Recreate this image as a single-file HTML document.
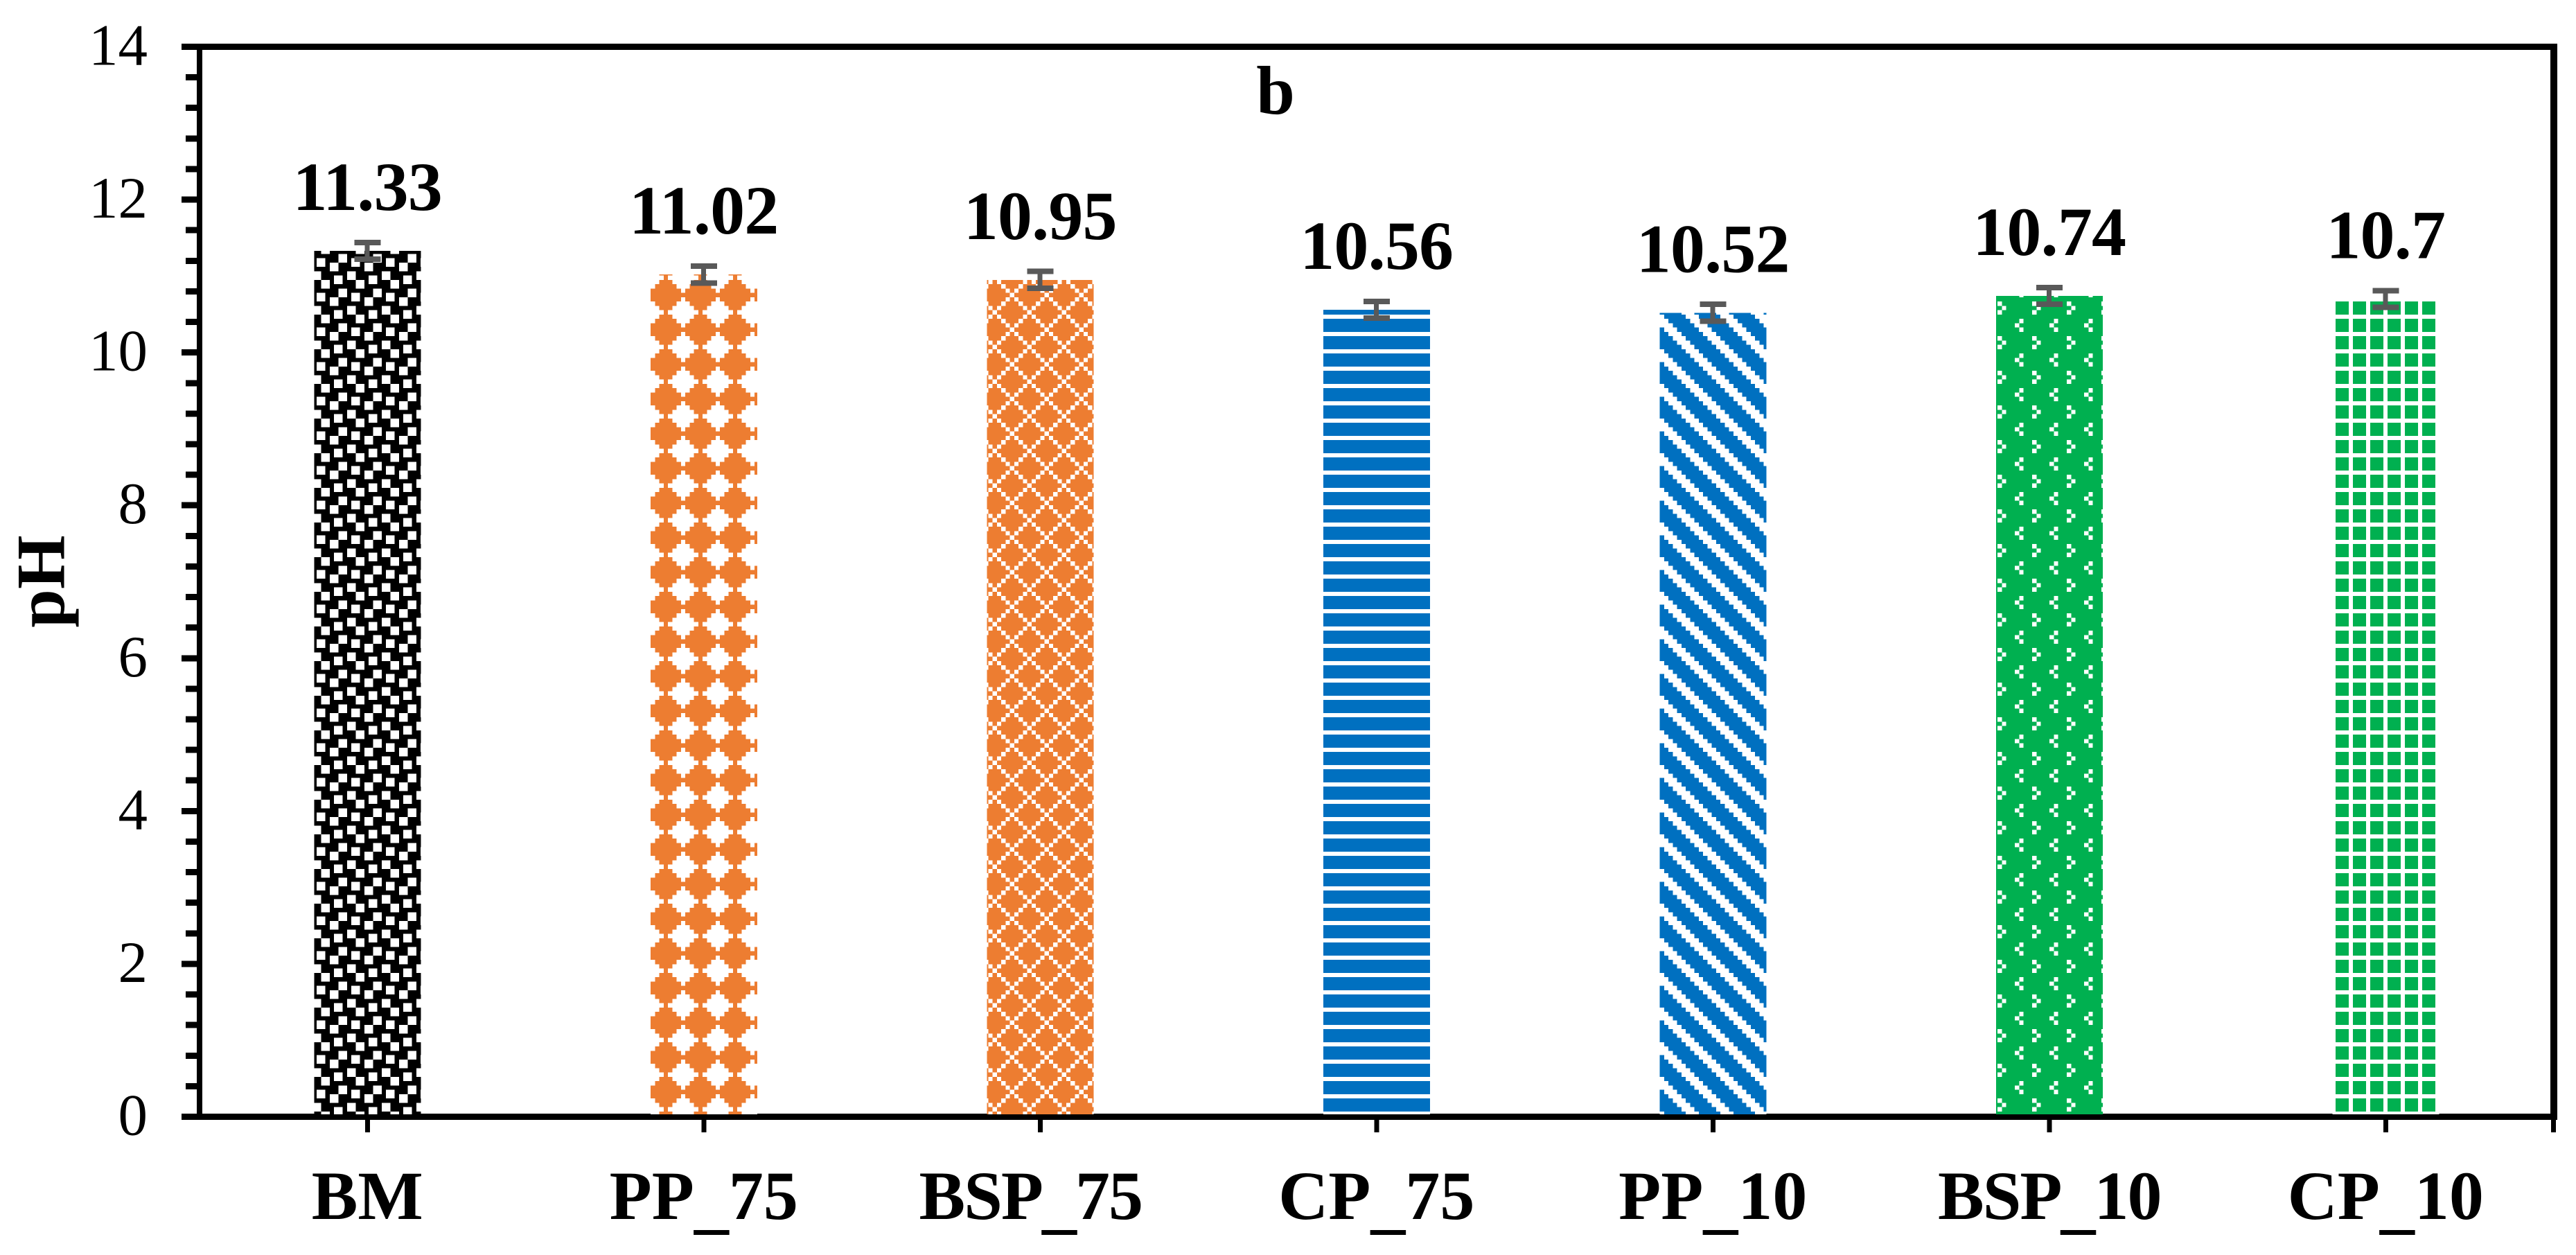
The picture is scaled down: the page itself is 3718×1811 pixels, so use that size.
<!DOCTYPE html>
<html lang="en">
<head>
<meta charset="utf-8">
<title>pH bar chart</title>
<style>
html,body{margin:0;padding:0;background:#fff;width:3718px;height:1811px;overflow:hidden}
svg{display:block}
text{font-family:"Liberation Serif",serif;fill:#000;font-kerning:normal}
.bold{font-weight:700;font-size:100px}
.value{letter-spacing:-0.8px}
.tick{font-size:85px}
</style>
</head>
<body>
<svg id="chart" xmlns="http://www.w3.org/2000/svg" width="3718" height="1811" viewBox="0 0 3718 1811">
  <defs id="defs"></defs>
  <rect x="0" y="0" width="3718" height="1811" fill="#fff"/>
  <g id="axes" fill="#000" shape-rendering="crispEdges"></g>
  <g id="bars" shape-rendering="crispEdges"></g>
  <g id="errors" fill="#595959" shape-rendering="crispEdges"></g>
  <g id="labels"></g>
  <text class="bold" x="1841" y="164" text-anchor="middle">b</text>
  <text class="bold" transform="translate(92.5 839) rotate(-90)" text-anchor="middle">pH</text>
</svg>
<script>
const categories = ['BM', 'PP_75', 'BSP_75', 'CP_75', 'PP_10', 'BSP_10', 'CP_10'];
const phValues = [11.33, 11.02, 10.95, 10.56, 10.52, 10.74, 10.7];
const errorValues = [0.11, 0.11, 0.11, 0.11, 0.11, 0.11, 0.11];
const printedValues = ['11.33', '11.02', '10.95', '10.56', '10.52', '10.74', '10.7'];
const yTickLabels = [0, 2, 4, 6, 8, 10, 12, 14];
const yMinorStep = 0.4;

const plot = { left: 287.5, right: 3686, top: 67.5, bottom: 1611.5, yMax: 14 };
const barWidth = 154;
const NS = 'http://www.w3.org/2000/svg';

function yScale(v) { return plot.bottom - v / plot.yMax * (plot.bottom - plot.top); }
function xScale(i) { return plot.left + (i + 0.5) * (plot.right - plot.left) / categories.length; }
function make(tag, attrs) {
  const n = document.createElementNS(NS, tag);
  for (const k in attrs) n.setAttribute(k, attrs[k]);
  return n;
}

/* Office-style 8x8 pattern fills, one per bar ('#' = coloured, '.' = white) */
const fills = [
  { id: 'fill-bm', color: '#000000', ox: 457, oy: 372.5, rows: [
    '..###..#', '..#..###', '###..###', '.######.',
    '.###..#.', '#..#..##', '#..#####', '#####..#'] },
  { id: 'fill-pp75', color: '#ED7D31', ox: 939, oy: 397.5, rows: [
    '...#....', '..###...', '.#####..', '#######.',
    '########', '#######.', '.#####..', '..###...'] },
  { id: 'fill-bsp75', color: '#ED7D31', ox: 1457.5, oy: 472.5, rows: [
    '.#######', '#.#####.', '##.###.#', '###.#.##',
    '####.###', '###.#.##', '##.###.#', '#.#####.'] },
  { id: 'fill-cp75', color: '#0070C0', ox: 1910, oy: 460, rows: [
    '########', '########', '########', '........',
    '########', '########', '########', '........'] },
  { id: 'fill-pp10', color: '#0070C0', ox: 2408, oy: 460, rows: [
    '#####...', '.#####..', '..#####.', '...#####',
    '#...####', '##...###', '###...##', '####...#'] },
  { id: 'fill-bsp10', color: '#00B050', ox: 2883, oy: 435, rows: [
    '.#######', '#.######', '.#######', '########',
    '#####.##', '####.###', '#####.##', '########'] },
  { id: 'fill-cp10', color: '#00B050', ox: 3371, oy: 435, rows: [
    '###.###.', '###.###.', '###.###.', '........',
    '###.###.', '###.###.', '###.###.', '........'] }
];

const defs = document.getElementById('defs');
fills.forEach(function (f) {
  const p = make('pattern', {
    id: f.id, patternUnits: 'userSpaceOnUse', width: 8, height: 8,
    patternTransform: 'translate(' + f.ox + ' ' + f.oy + ') scale(6.25)'
  });
  
  
  p.appendChild(make('rect', { x: 0, y: 0, width: 8, height: 8, fill: '#fff', 'shape-rendering': 'crispEdges' }));
  f.rows.forEach(function (row, r) {
    for (let c = 0; c < 8; c++) {
      if (row[c] === '#') {
        p.appendChild(make('rect', { x: c, y: r, width: 1, height: 1, fill: f.color, 'shape-rendering': 'crispEdges' }));
      }
    }
  });
  defs.appendChild(p);
});

/* Axes and frame */
const axes = document.getElementById('axes');
const frame = [
  ['top-axis-line', 262, 63, 3691 - 262, 9],
  ['bottom-axis-line', 262, 1607, 3691 - 262, 9],
  ['left-axis-line', 284, 63, 8, 1553],
  ['right-axis-line', 3681, 63, 10, 1553]
];
frame.forEach(function (d) {
  const r = make('rect', { x: d[1], y: d[2], width: d[3], height: d[4] });
  
  
  axes.appendChild(r);
});

const labels = document.getElementById('labels');

/* Y ticks */
for (let k = 0; k * yMinorStep < plot.yMax + 1e-6; k++) {
  const v = k * yMinorStep;
  if (Math.abs(v / 2 - Math.round(v / 2)) < 1e-6) continue;
  const t = make('rect', { x: 268, y: yScale(v) - 4.5, width: 16, height: 9 });
  
  
  axes.appendChild(t);
}
yTickLabels.forEach(function (v) {
  const t = make('rect', { x: 262, y: yScale(v) - 4.5, width: 22, height: 9 });
  
  
  axes.appendChild(t);
  const l = make('text', { class: 'tick', x: 213, y: yScale(v) + 26, 'text-anchor': 'end' });
  l.textContent = String(v);
  
  
  labels.appendChild(l);
});

/* X ticks at category centres and at the right edge */
function addXTick(x) {
  const t = make('rect', { x: x - 3.5, y: 1616, width: 7, height: 18 });
  
  
  axes.appendChild(t);
}
categories.forEach(function (c, i) { addXTick(xScale(i)); });
addXTick(plot.right - 0.5);

/* Bars, error bars, labels */
const bars = document.getElementById('bars');
const errors = document.getElementById('errors');
categories.forEach(function (c, i) {
  const cx = xScale(i);
  const top = yScale(phValues[i]);
  const bar = make('rect', {
    x: cx - barWidth / 2, y: top, width: barWidth, height: yScale(0) - 3.5 - top,
    fill: 'url(#' + fills[i].id + ')'
  });
  
  
  bars.appendChild(bar);

  const hi = yScale(phValues[i] + errorValues[i]);
  const lo = yScale(phValues[i] - errorValues[i]);
  const stem = make('rect', { x: cx - 4, y: hi, width: 7, height: lo - hi });
  
  
  errors.appendChild(stem);
  const capTop = make('rect', { x: cx - 19, y: hi - 4, width: 38, height: 8 });
  
  
  errors.appendChild(capTop);
  const capBottom = make('rect', { x: cx - 19, y: lo - 4, width: 38, height: 8 });
  
  
  errors.appendChild(capBottom);

  const val = make('text', { class: 'bold value', x: cx, y: top - 59, 'text-anchor': 'middle' });
  val.textContent = printedValues[i];
  
  
  labels.appendChild(val);

  /* Category label: the underscore sits lower than the font's default, the BSP labels are tighter */
  const isBsp = c.indexOf('BSP') === 0;
  const cat = make('text', { class: 'bold', x: cx - (c === 'BSP_75' ? 14 : 0), y: 1759, 'text-anchor': 'middle' });
  if (isBsp) cat.setAttribute('letter-spacing', '-2');
  const parts = c.split('_');
  cat.appendChild(document.createTextNode(parts[0]));
  if (parts.length > 1) {
    const us = make('tspan', { dy: 9 });
    us.textContent = '_';
    cat.appendChild(us);
    const rest = make('tspan', { dy: -9 });
    rest.textContent = parts[1];
    cat.appendChild(rest);
  }
  
  
  labels.appendChild(cat);
});
</script>
</body>
</html>
